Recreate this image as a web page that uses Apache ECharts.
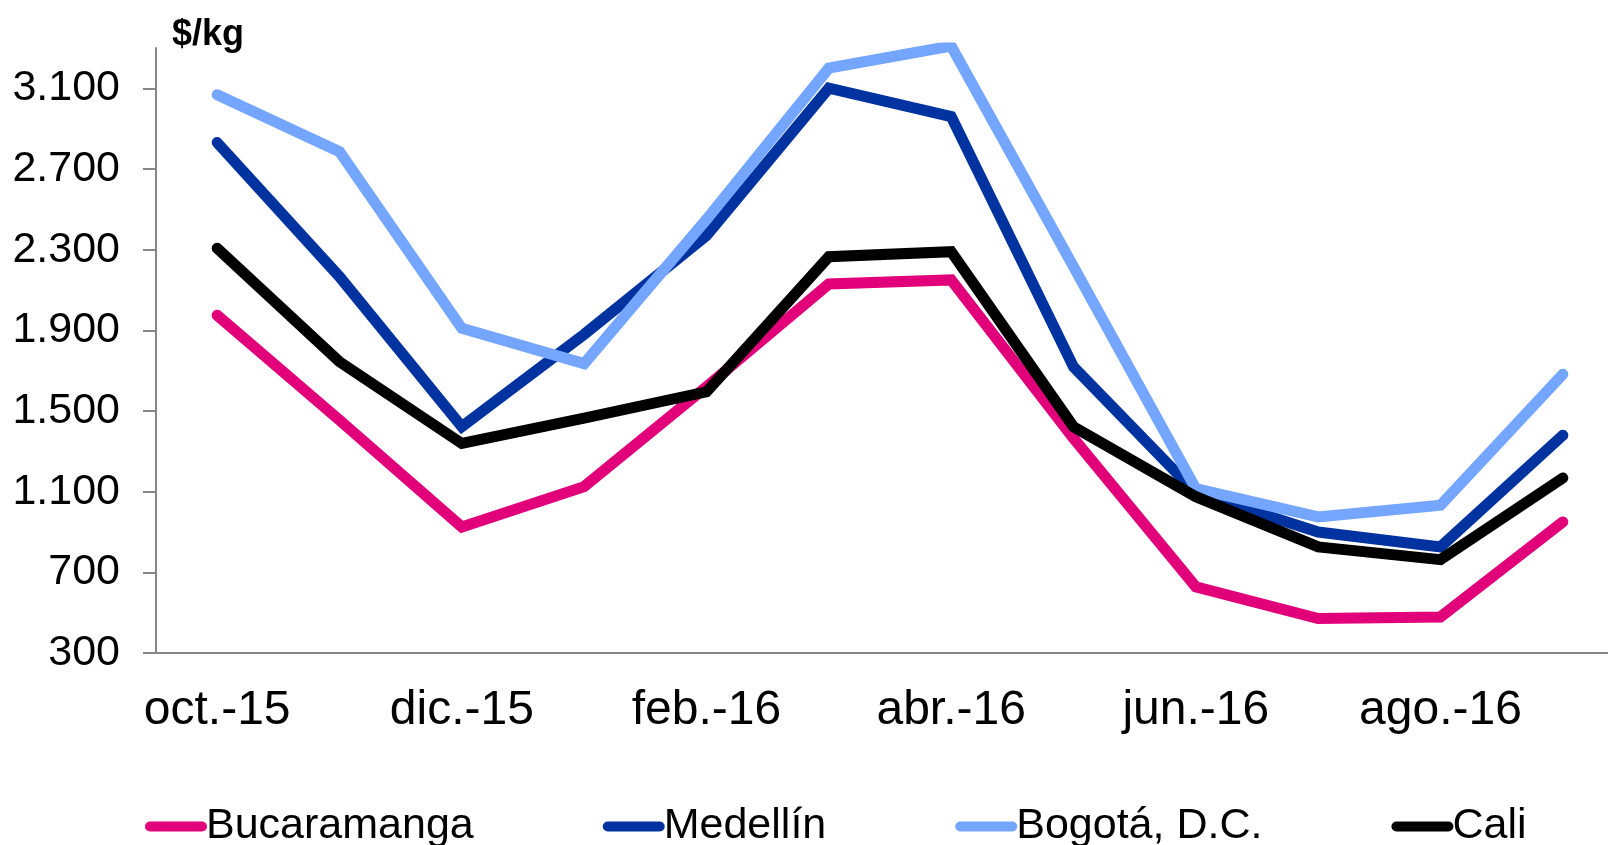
<!DOCTYPE html>
<html>
<head>
<meta charset="utf-8">
<script src="https://cdn.jsdelivr.net/npm/echarts@6/dist/echarts.min.js"></script>
<style>
html,body{margin:0;padding:0;background:#fff;}
#chart{width:1608px;height:845px;}
</style>
</head>
<body>
<div id="chart"></div>
<script>
const categories = ['oct.-15','nov.-15','dic.-15','ene.-16','feb.-16','mar.-16','abr.-16','may.-16','jun.-16','jul.-16','ago.-16','sep.-16'];
const bucaramanga = [1975, 1455, 925, 1125, 1620, 2130, 2150, 1365, 628, 471, 479, 950];
const medellin = [2831, 2166, 1422, 1880, 2370, 3101, 2960, 1719, 1095, 900, 826, 1380];
const bogota = [3068, 2786, 1910, 1735, 2450, 3200, 3310, 2216, 1115, 975, 1033, 1682];
const cali = [2307, 1744, 1339, 1465, 1595, 2265, 2290, 1422, 1075, 826, 763, 1168];
const yTicks = [300, 700, 1100, 1500, 1900, 2300, 2700, 3100];
const seriesNames = ['Bucaramanga', 'Medellín', 'Bogotá, D.C.', 'Cali'];
const colors = ['#E2007A', '#0033A0', '#75A6FF', '#000000'];

const FONT = 'Liberation Sans, Arial, sans-serif';
const chart = echarts.init(document.getElementById('chart'), null, {renderer: 'canvas'});
const dataSets = [bucaramanga, medellin, bogota, cali];
const iconPath = 'path://M5,0 H57 A5,5 0 0 1 57,10 H5 A5,5 0 0 1 5,0 Z';

chart.setOption({
  animation: false,
  backgroundColor: '#ffffff',
  title: {
    text: '$/kg',
    left: 167,
    top: 12,
    textStyle: {fontFamily: FONT, fontSize: 36, fontWeight: 'bold', color: '#000'}
  },
  legend: {
    left: 140,
    top: 800,
    itemGap: 129,
    itemWidth: 62,
    itemHeight: 10,
    data: seriesNames.map((n, i) => ({name: n, icon: iconPath, itemStyle: {color: colors[i]}})),
    textStyle: {fontFamily: FONT, fontSize: 43, color: '#000', padding: [0, 0, 0, -6]}
  },
  grid: {left: 156, width: 1468, top: 48, bottom: 192, containLabel: false, outerBoundsMode: 'none'},
  xAxis: {
    type: 'category',
    data: categories,
    boundaryGap: true,
    axisLine: {lineStyle: {color: '#868686', width: 2}},
    axisTick: {show: false},
    axisLabel: {interval: 1, margin: 34, fontFamily: FONT, fontSize: 48, color: '#000'},
    splitLine: {show: false}
  },
  yAxis: {
    type: 'value',
    min: 300,
    max: 3300,
    interval: 400,
    axisLine: {show: true, lineStyle: {color: '#868686', width: 2}},
    axisTick: {show: true, length: 13, inside: false, customValues: yTicks, lineStyle: {color: '#868686', width: 2}},
    axisLabel: {
      customValues: yTicks,
      margin: 36,
      fontFamily: FONT,
      fontSize: 43,
      color: '#000',
      formatter: v => echarts.format.addCommas(v).replace(/,/g, '.')
    },
    splitLine: {show: false}
  },
  series: dataSets.map((d, i) => ({
    name: seriesNames[i],
    type: 'line',
    data: d,
    symbol: 'none',
    clip: true,
    lineStyle: {color: colors[i], width: 11, cap: 'round', join: 'miter'},
    itemStyle: {color: colors[i]}
  }))
});
</script>
</body>
</html>
